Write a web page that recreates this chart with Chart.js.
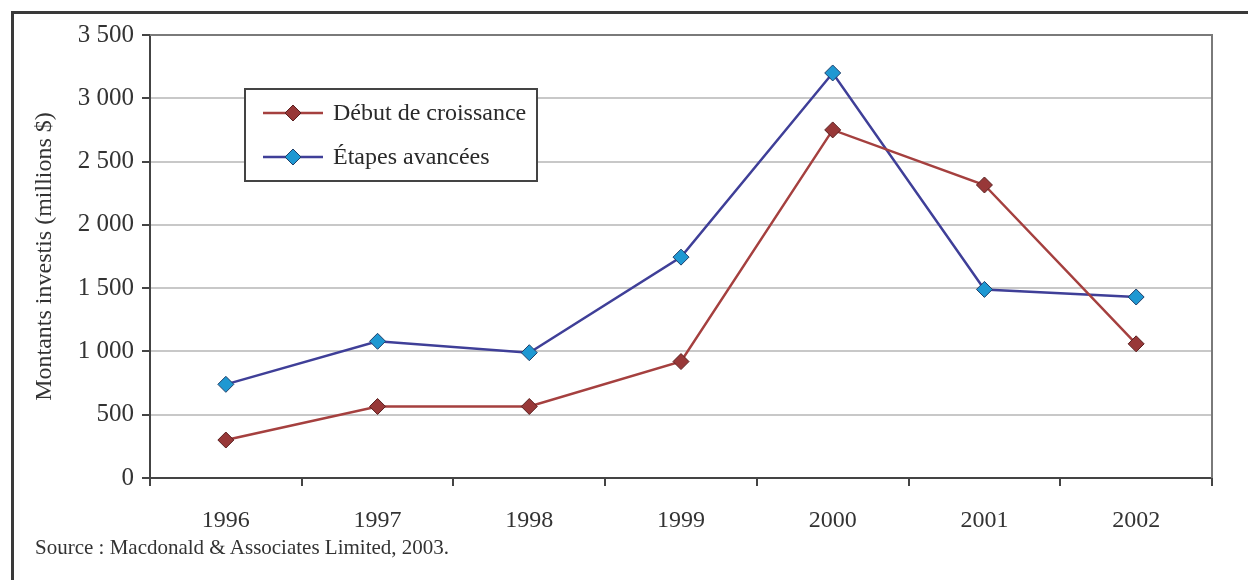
<!DOCTYPE html>
<html>
<head>
<meta charset="utf-8">
<script src="https://cdn.jsdelivr.net/npm/chart.js@4"></script>
<style>
  html, body { margin: 0; padding: 0; background: #fff; overflow: hidden; }
  #wrap { position: relative; width: 1248px; height: 580px; }
  #frame { position: absolute; left: 11px; top: 11px; width: 1300px; height: 620px; border: 3px solid #3a3a3a; box-sizing: border-box; }
  #src { position: absolute; left: 35px; top: 535px; font-family: "Liberation Serif", serif; font-size: 21px; color: #333; }
  canvas { position: absolute; left: 0; top: 0; }
</style>
</head>
<body>
<div id="wrap">
  <div id="frame"></div>
  <canvas id="chart" width="1248" height="580"></canvas>
  <div id="src">Source : Macdonald &amp; Associates Limited, 2003.</div>
</div>
<script>
// data
var years = ['1996', '1997', '1998', '1999', '2000', '2001', '2002']
var debut = [300, 565, 565, 920, 2750, 2315, 1060]
var etapes = [740, 1080, 990, 1745, 3200, 1490, 1430]
var seriesNames = ['Début de croissance', 'Étapes avancées']
var yTitle = 'Montants investis (millions $)'

var serif = '"Liberation Serif", "Times New Roman", serif'

// frame on top/right of plot + legend box inside the plot
var extras = {
    id: 'extras',
    beforeDatasetsDraw: function (chart) {
        var a = chart.chartArea
        var ctx = chart.ctx
        ctx.save()
        ctx.strokeStyle = '#7a7a7a'
        ctx.lineWidth = 2
        ctx.beginPath()
        ctx.moveTo(a.left, a.top)
        ctx.lineTo(a.right, a.top)
        ctx.lineTo(a.right, a.bottom)
        ctx.stroke()
        ctx.restore()
    },
    afterDraw: function (chart) {
        var ctx = chart.ctx
        ctx.save()
        ctx.fillStyle = '#fff'
        ctx.fillRect(245, 89, 292, 92)
        ctx.strokeStyle = '#444'
        ctx.lineWidth = 2
        ctx.strokeRect(245, 89, 292, 92)
        chart.data.datasets.forEach(function (ds, i) {
            var y = 113 + i * 44
            ctx.strokeStyle = ds.borderColor
            ctx.lineWidth = 2.5
            ctx.beginPath()
            ctx.moveTo(263, y)
            ctx.lineTo(323, y)
            ctx.stroke()
            ctx.fillStyle = ds.pointBackgroundColor
            ctx.strokeStyle = ds.pointBorderColor
            ctx.lineWidth = 1
            ctx.beginPath()
            ctx.moveTo(293, y - 8); ctx.lineTo(301, y); ctx.lineTo(293, y + 8); ctx.lineTo(285, y); ctx.closePath()
            ctx.fill(); ctx.stroke()
            ctx.fillStyle = '#2a2a2a'
            ctx.font = '24px ' + serif
            ctx.textBaseline = 'middle'
            ctx.fillText(ds.label, 333, y + 1)
        })
        ctx.restore()
    }
}

new Chart(document.getElementById('chart'), {
    type: 'line',
    data: {
        labels: years,
        datasets: [{
            label: seriesNames[0],
            data: debut,
            borderColor: '#a5403f',
            borderWidth: 2.5,
            pointStyle: 'rectRot',
            pointRadius: 8,
            pointBackgroundColor: '#983838',
            pointBorderColor: '#5a2020',
            pointBorderWidth: 1,
            tension: 0
        }, {
            label: seriesNames[1],
            data: etapes,
            borderColor: '#3f3f98',
            borderWidth: 2.5,
            pointStyle: 'rectRot',
            pointRadius: 8,
            pointBackgroundColor: '#1e98d2',
            pointBorderColor: '#1f3f6a',
            pointBorderWidth: 1,
            tension: 0
        }]
    },
    options: {
        responsive: false,
        animation: false,
        layout: { padding: { left: 10, top: 35, right: 36, bottom: 42 } },
        plugins: {
            legend: { display: false },
            tooltip: { enabled: false }
        },
        scales: {
            x: {
                offset: true,
                afterFit: function (s) { s.height = 60 },
                grid: { offset: true, drawOnChartArea: false, color: '#444', lineWidth: 2, tickLength: 8 },
                border: { color: '#444', width: 2 },
                ticks: { color: '#333', padding: 20, font: { family: serif, size: 24 } }
            },
            y: {
                min: 0,
                max: 3500,
                afterFit: function (s) { s.width = 140 },
                grid: { color: '#c8c8c8', lineWidth: 2, tickColor: '#444', tickLength: 8 },
                border: { color: '#444', width: 2 },
                ticks: {
                    stepSize: 500,
                    color: '#333',
                    padding: 8,
                    font: { family: serif, size: 25 },
                    callback: function (v) { return v.toLocaleString('fr-FR').replace(/\s/g, ' ') }
                },
                title: { display: true, text: yTitle, color: '#333', padding: { top: 20, bottom: 0 }, font: { family: serif, size: 24 } }
            }
        }
    },
    plugins: [extras]
});
</script>
</body>
</html>
